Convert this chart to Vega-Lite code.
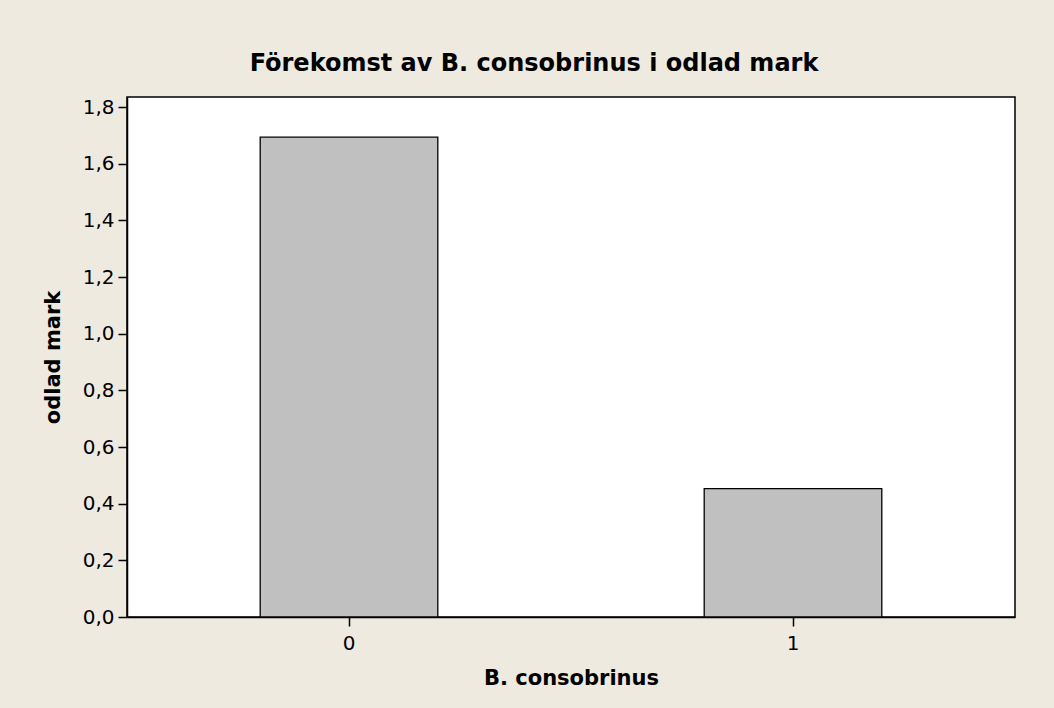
{
  "$schema": "https://vega.github.io/schema/vega-lite/v6.json",
  "width": 888,
  "height": 520,
  "autosize": {"type": "none"},
  "padding": {"left": 127, "top": 97, "right": 39, "bottom": 91},
  "background": "#EEEAE0",
  "title": {
    "text": "Förekomst av B. consobrinus i odlad mark",
    "font": "DejaVu Sans",
    "fontSize": 24,
    "fontWeight": "bold",
    "color": "#000000",
    "anchor": "middle",
    "dx": -37,
    "offset": 21
  },
  "data": {
    "values": [
      {"group": "0", "value": 1.694},
      {"group": "1", "value": 0.453}
    ]
  },
  "mark": {"type": "bar", "color": "#C0C0C0", "stroke": "#000000", "strokeWidth": 1.3},
  "encoding": {
    "x": {
      "field": "group",
      "type": "nominal",
      "title": "B. consobrinus",
      "scale": {"paddingInner": 0.6, "paddingOuter": 0.3},
      "axis": {"labelAngle": 0, "labelPadding": 7, "titlePadding": 14}
    },
    "y": {
      "field": "value",
      "type": "quantitative",
      "title": "odlad mark",
      "scale": {"domain": [0, 1.836], "nice": false, "zero": true},
      "axis": {
        "values": [0, 0.2, 0.4, 0.6, 0.8, 1.0, 1.2, 1.4, 1.6, 1.8],
        "format": ".1f",
        "grid": false,
        "labelPadding": 4,
        "titlePadding": 19
      }
    }
  },
  "config": {
    "locale": {
      "number": {"decimal": ",", "thousands": " ", "grouping": [3], "currency": ["", " kr"]}
    },
    "font": "DejaVu Sans",
    "view": {"fill": "#FFFFFF", "stroke": "#000000", "strokeWidth": 1.5},
    "axis": {
      "domainColor": "#000000",
      "domainWidth": 1.5,
      "tickColor": "#000000",
      "tickWidth": 1.5,
      "tickSize": 9,
      "labelFont": "DejaVu Sans",
      "labelFontSize": 20,
      "labelColor": "#000000",
      "titleFont": "DejaVu Sans",
      "titleFontSize": 21,
      "titleFontWeight": "bold",
      "titleColor": "#000000"
    }
  }
}
